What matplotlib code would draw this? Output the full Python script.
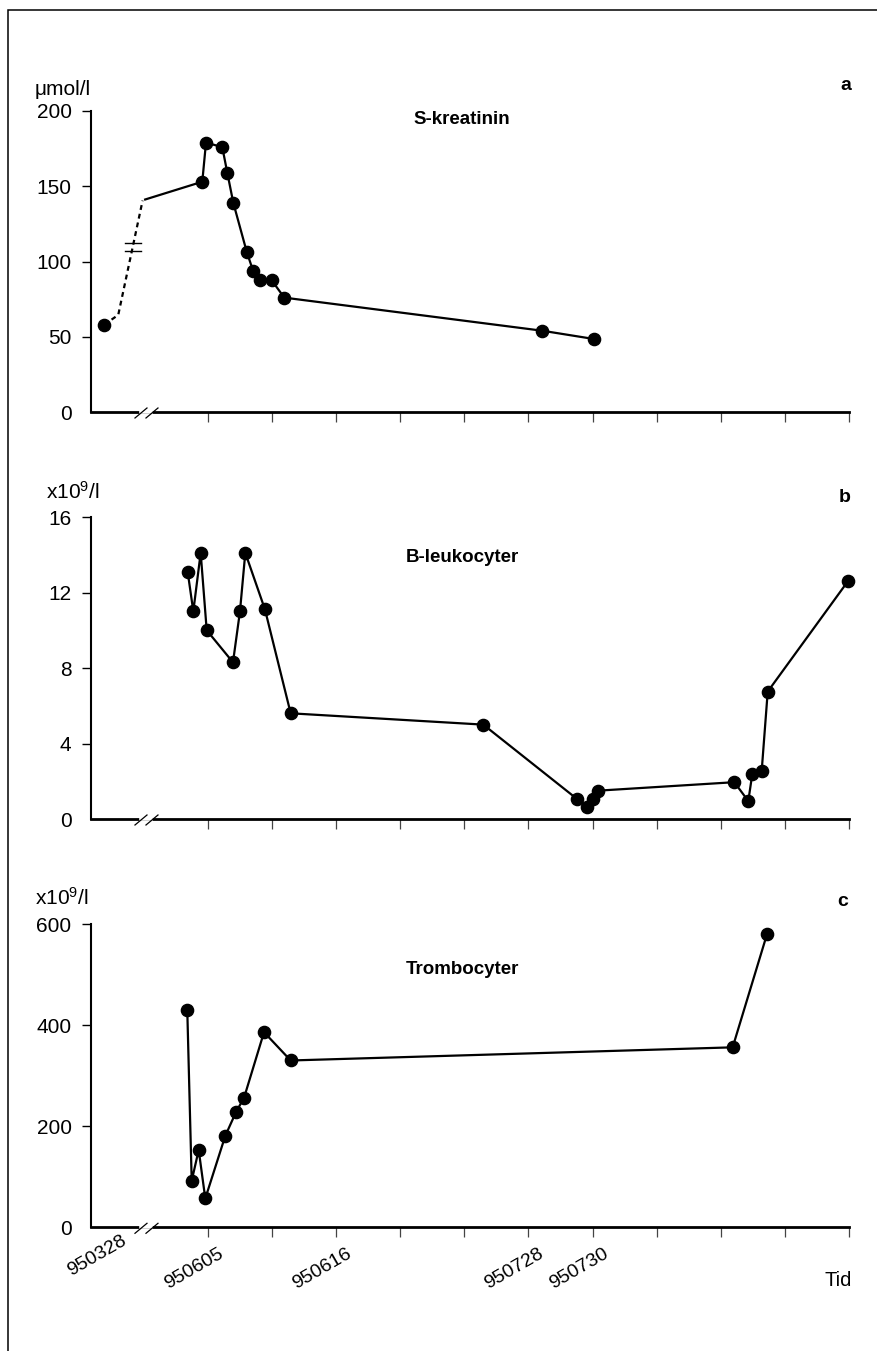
import matplotlib
matplotlib.use('Agg')
import matplotlib.pyplot as plt
from matplotlib.transforms import ScaledTranslation, blended_transform_factory
from matplotlib.lines import Line2D
from matplotlib.patches import Rectangle

plt.rcParams['font.family'] = ['Liberation Sans', 'DejaVu Sans']
plt.rcParams['font.size'] = 14
plt.rcParams['mathtext.fontset'] = 'custom'
plt.rcParams['mathtext.rm'] = 'Liberation Sans'
plt.rcParams['mathtext.it'] = 'Liberation Sans:italic'
plt.rcParams['mathtext.bf'] = 'Liberation Sans:bold'

# ---------------- data ----------------
# x axis: ordinal time scale, tick k = 0..10
tick_pos = list(range(11))
tick_labels = ['950605', '', '950616', '', '', '950728', '950730', '', '', '', '']
first_date_pos = -1.513
first_date_label = '950328'
x_min, x_max = -1.825, 10.0

# a: S-kreatinin (umol/l)
kreat_x = [-1.618, -0.089, -0.031, 0.223, 0.301, 0.395, 0.604, 0.702, 0.807, 0.994, 1.190, 5.215, 6.022]
kreat_y = [58, 153, 179, 176, 159, 139, 106.5, 94, 87.5, 87.5, 76, 54, 48.5]
kreat_gap_x = [-1.618, -1.40, -1.02]          # dashed (interrupted) part
kreat_gap_y = [58, 64.5, 140.5]
kreat_resume_x = -0.98
kreat_resume_y = 141.2

# b: B-leukocyter (x10^9/l)
leuko_x = [-0.317, -0.229, -0.114, -0.020, 0.390, 0.499, 0.582, 0.889, 1.290, 4.295,
           5.761, 5.908, 6.002, 6.080, 8.211, 8.429, 8.492, 8.638, 8.732, 9.984]
leuko_y = [13.1, 11.0, 14.1, 10.0, 8.3, 11.0, 14.1, 11.1, 5.6, 5.0,
           1.05, 0.65, 1.05, 1.5, 1.95, 0.95, 2.4, 2.55, 6.75, 12.6]

# c: Trombocyter (x10^9/l)
tromb_x = [-0.323, -0.254, -0.145, -0.042, 0.270, 0.441, 0.562, 0.874, 1.290, 8.185, 8.721]
tromb_y = [429, 92, 153, 57, 181, 229, 256, 386, 330, 356, 580]

panels = [
    dict(title='S-kreatinin', letter='a', unit='\u03bcmol/l', yticks=[0, 50, 100, 150, 200]),
    dict(title='B-leukocyter', letter='b', unit=r'x10$^{\mathregular{9}}$/l', yticks=[0, 4, 8, 12, 16]),
    dict(title='Trombocyter', letter='c', unit=r'x10$^{\mathregular{9}}$/l', yticks=[0, 200, 400, 600]),
]

# ---------------- layout (pixels) ----------------
W_PX, H_PX = 877, 1351
fig = plt.figure(figsize=(W_PX / 100, H_PX / 100), dpi=100)

def fx(px):
    return px / W_PX

def fy(py):
    return 1 - py / H_PX

ax_left, ax_right = 91, 849
ax_tops = [111, 517, 924]
ax_bots = [412, 819, 1227.3]
title_pos = [(462, 119), (462, 558), (462, 969)]
letter_pos = [(846, 86), (845, 497), (843, 901)]
unit_pos = [(35, 95), (46, 499), (35, 905)]

lw = 1.6
axes = []
for i, p in enumerate(panels):
    ax = fig.add_axes([fx(ax_left), fy(ax_bots[i]), fx(ax_right - ax_left),
                       (ax_bots[i] - ax_tops[i]) / H_PX])
    axes.append(ax)
    ax.set_xlim(x_min, x_max)
    ax.set_ylim(p['yticks'][0], p['yticks'][-1])
    for s in ['top', 'right']:
        ax.spines[s].set_visible(False)
    ax.spines['left'].set_linewidth(1.5)
    ax.spines['bottom'].set_linewidth(2.0)
    ax.set_yticks(p['yticks'])
    ax.tick_params(axis='y', direction='out', length=6.5, width=1.0, pad=7.5, labelsize=15)
    ax.yaxis.get_major_ticks()[0].tick1line.set_visible(False)
    ax.set_xticks(tick_pos)
    ax.tick_params(axis='x', direction='out', length=7.2, width=0.9, color='#444444',
                   pad=6, labelsize=14)
    ax.tick_params(axis='x', which='minor', length=0)
    if i == 2:
        ax.set_xticklabels(tick_labels)
        ax.set_xticks([first_date_pos], minor=True)
        ax.set_xticklabels([first_date_label], minor=True)
        off = ScaledTranslation(-14 / 100, 0, fig.dpi_scale_trans)
        for lab in ax.get_xticklabels() + ax.get_xticklabels(minor=True):
            lab.set_rotation(30)
            lab.set_ha('center')
            lab.set_fontsize(14)
            lab.set_transform(lab.get_transform() + off)
    else:
        ax.set_xticklabels([])

    # axis break marks "//"
    bt = blended_transform_factory(ax.transData, ax.transAxes)
    h = ax_bots[i] - ax_tops[i]
    def u(px):
        return (px - 208) / 64.1
    ax.add_line(Line2D([u(141.5), u(151.5)], [0, 0], color='white', lw=2.6,
                       transform=bt, clip_on=False, zorder=5))
    for x0 in (135, 146):
        ax.add_line(Line2D([u(x0), u(x0 + 12)], [-6 / h, 4 / h], color='black', lw=0.9,
                           transform=bt, clip_on=False, zorder=6))

    fig.text(fx(title_pos[i][0]), fy(title_pos[i][1]), p['title'], ha='center', va='center',
             fontsize=13.5, fontweight='bold')
    fig.text(fx(letter_pos[i][0]), fy(letter_pos[i][1]), p['letter'], ha='center', va='center',
             fontsize=14, fontweight='bold')
    fig.text(fx(unit_pos[i][0]), fy(unit_pos[i][1]), p['unit'], ha='left', va='baseline',
             fontsize=15)

mk = dict(color='black', marker='o', markersize=8.8, lw=lw, clip_on=False, zorder=4)

# panel a
ax = axes[0]
ax.plot(kreat_gap_x, kreat_gap_y, color='black', lw=lw, linestyle=(0, (2.2, 1.8)), clip_on=False)
ax.plot([kreat_resume_x] + kreat_x[1:], [kreat_resume_y] + kreat_y[1:], color='black', lw=lw,
        clip_on=False)
ax.plot(kreat_x, kreat_y, linestyle='none', marker='o', markersize=8.8, color='black',
        clip_on=False, zorder=4)
# small interruption marks on the dashed link
for yv in (112.2, 106.9):
    ax.plot([(125.2 - 208) / 64.1, (141.2 - 208) / 64.1], [yv, yv], color='black', lw=1.0)

# panel b
axes[1].plot(leuko_x, leuko_y, **mk)
# panel c
axes[2].plot(tromb_x, tromb_y, **mk)

fig.text(fx(852), fy(1280), 'Tid', ha='right', va='center', fontsize=14.5)

# outer frame
fig.patches.append(Rectangle((fx(8), -0.05), 1.0, fy(10) + 0.05, transform=fig.transFigure,
                             fill=False, edgecolor='black', lw=1.1))

fig.savefig('out.png', dpi=100)
